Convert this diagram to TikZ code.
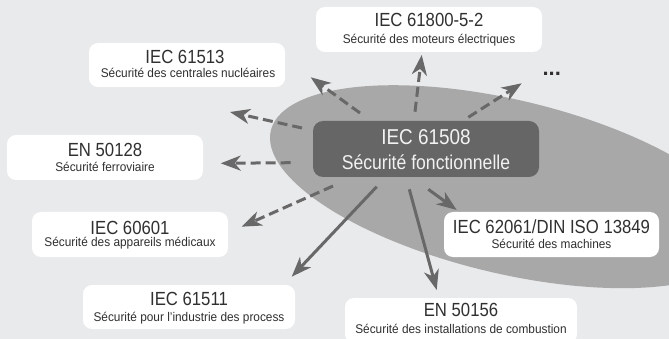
\documentclass[tikz,border=0pt]{standalone}
\usepackage{fontspec}
\setmainfont{Liberation Sans}
\newfontfamily\condf[FakeStretch=0.88]{Liberation Sans}
\newfontfamily\subf[FakeStretch=0.94]{Liberation Sans}
\usetikzlibrary{arrows.meta}
\definecolor{bgcol}{HTML}{E9EAEC}
\definecolor{ellcol}{HTML}{A8A8A8}
\definecolor{cboxcol}{HTML}{666666}
\definecolor{arrcol}{HTML}{686868}
\definecolor{titcol}{HTML}{303030}
\definecolor{subcol}{HTML}{303030}
\definecolor{ctxtcol}{HTML}{F2F2F2}
\tikzset{
  box/.style={draw=none, fill=white, rounded corners=9pt, inner sep=0pt},
  cbox/.style={draw=none, fill=cboxcol, rounded corners=10pt, inner sep=0pt, minimum width=226pt, minimum height=56pt},
  tit/.style={font=\condf\fontsize{19}{19}\selectfont, text=titcol, anchor=base, inner sep=0pt},
  sub/.style={font=\subf\fontsize{12.6}{12.6}\selectfont, text=subcol, anchor=base, inner sep=0pt},
  ctit/.style={font=\condf\fontsize{21.5}{21.5}\selectfont, text=ctxtcol, anchor=base, inner sep=0pt},
  csub/.style={font=\condf\fontsize{20}{20}\selectfont, text=ctxtcol, anchor=base, inner sep=0pt},
  arr/.style={draw=arrcol, line width=3pt, -{Stealth[length=20pt,width=15pt,inset=6pt]}},
  dsh/.style={arr, dash pattern=on 10pt off 5pt},
}
\begin{document}
\begin{tikzpicture}[x=1pt,y=-1pt]
\useasboundingbox (0,0) rectangle (669,339);
\clip (0,0) rectangle (669,339);
\fill[bgcol] (0,0) rectangle (669,339);
\fill[ellcol] plot[domain=0:360, samples=150, variable=\t]
  ({508+238*cos(\t)}, {186.7+48.8*cos(\t)+89*sin(\t)}) -- cycle;

% central box
\node[cbox] (c) at (426,149) {};
\node[ctit] (ct) at (426,145) {IEC 61508};
\node[csub] (cs) at (426,169.3) {Sécurité fonctionnelle};

% boxes
\node[box, minimum width=196pt, minimum height=44pt] (b1) at (187,65) {};
\node[tit] (b1t) at (185,63.3) {IEC 61513};
\node[sub] (b1s) at (188,77.3) {Sécurité des centrales nucléaires};

\node[box, minimum width=226pt, minimum height=45pt] (b2) at (429,29.5) {};
\node[tit] (b2t) at (429,26.7) {IEC 61800-5-2};
\node[sub] (b2s) at (429,43.3) {Sécurité des moteurs électriques};

\node[box, minimum width=196pt, minimum height=45pt] (b3) at (105,157.5) {};
\node[tit] (b3t) at (105,156.7) {EN 50128};
\node[sub] (b3s) at (105,171.5) {Sécurité ferroviaire};

\node[box, minimum width=196pt, minimum height=45pt] (b4) at (130,234.5) {};
\node[tit] (b4t) at (130,234) {IEC 60601};
\node[sub] (b4s) at (130,246.5) {Sécurité des appareils médicaux};

\node[box, minimum width=212pt, minimum height=44pt] (b5) at (189,307) {};
\node[tit] (b5t) at (189,305) {IEC 61511};
\node[sub] (b5s) at (189,321.7) {Sécurité pour l’industrie des process};

\node[box, minimum width=232pt, minimum height=45pt] (b6) at (461,320.5) {};
\node[tit] (b6t) at (461,316.7) {EN 50156};
\node[sub] (b6s) at (461,333.3) {Sécurité des installations de combustion};

\node[box, minimum width=215pt, minimum height=45pt] (b7) at (551.5,234.5) {};
\node[tit] (b7t) at (551.5,233.3) {IEC 62061/DIN ISO 13849};
\node[sub] (b7s) at (551.5,248.3) {Sécurité des machines};

\node[font=\bfseries\fontsize{22}{22}\selectfont, text=titcol, anchor=base, inner sep=0pt] (dots) at (551.7,76) {...};

% arrow end points
\coordinate (s1) at (360,113);   \coordinate (t1) at (310.7,77.3);
\coordinate (s2) at (302,128);   \coordinate (t2) at (230,112);
\coordinate (s3) at (290.7,162.7); \coordinate (t3) at (220.7,163.3);
\coordinate (s4) at (333,186);   \coordinate (t4) at (241.7,226.7);
\coordinate (s5) at (376.7,186.7); \coordinate (t5) at (291.7,276.7);
\coordinate (s6) at (409.3,189.3); \coordinate (t6) at (436.7,290);
\coordinate (s7) at (428.3,189.3); \coordinate (t7) at (456.7,210);
\coordinate (s8) at (415,111.7); \coordinate (t8) at (421.7,55);
\coordinate (s9) at (468.3,117.3); \coordinate (t9) at (521.7,83.3);

\draw[dsh] (s1) -- (t1);
\draw[dsh] (s2) -- (t2);
\draw[dsh] (s3) -- (t3);
\draw[dsh] (s4) -- (t4);
\draw[arr] (s5) -- (t5);
\draw[arr] (s6) -- (t6);
\draw[arr] (s7) -- (t7);
\draw[dsh] (s8) -- (t8);
\draw[dsh] (s9) -- (t9);
\end{tikzpicture}
\end{document}
